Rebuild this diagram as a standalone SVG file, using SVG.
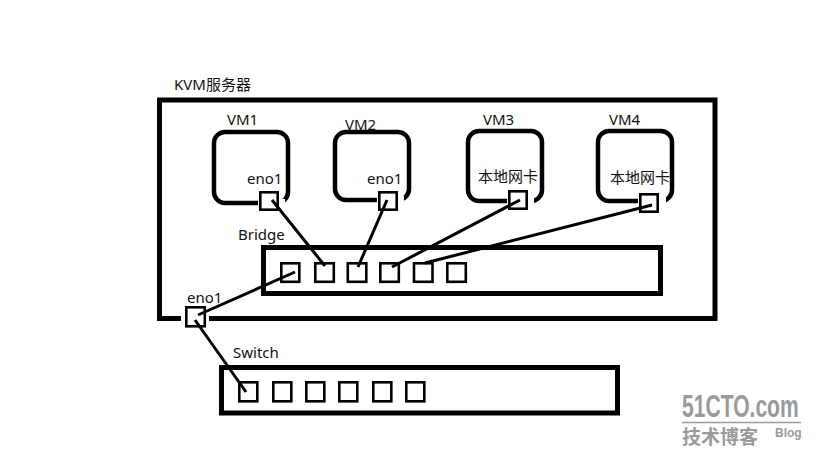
<svg xmlns="http://www.w3.org/2000/svg" width="819" height="460" viewBox="0 0 819 460">
<style>
.t{font-family:"Noto Sans","Noto Sans CJK SC",sans-serif;font-size:15px;fill:#111}
.c{font-family:"Noto Sans CJK SC","Noto Sans",sans-serif;font-size:15px;fill:#111}
.box{fill:none;stroke:#000;stroke-width:5}
.vm{fill:none;stroke:#000;stroke-width:4.5}
.port{fill:#fff;stroke:#000;stroke-width:2.6}
.gap{fill:#fff;stroke:none}
.ln{stroke:#000;stroke-width:3;fill:none}
.wm{font-family:"Liberation Sans","DejaVu Sans",sans-serif;font-weight:bold;fill:#9a9a9a}
</style>
<rect width="819" height="460" fill="#fff"/>
<g id="server">
<text class="t" x="174" y="90">KVM服务器</text>
<rect class="box" x="159.5" y="100" width="555.5" height="218.5"/>
</g>
<g id="vm1">
<text class="t" x="227" y="125">VM1</text>
<rect class="vm" x="214" y="132" width="74" height="71" rx="11"/>
<text class="t" x="247" y="184">eno1</text>
<rect class="gap" x="258" y="199" width="27" height="8"/>
<rect class="port" x="260.3" y="192.3" width="17.4" height="17.4"/>
</g>
<g id="vm2">
<rect class="vm" x="335" y="132" width="74" height="68" rx="11"/>
<text class="t" x="345" y="130">VM2</text>
<text class="t" x="367" y="184">eno1</text>
<rect class="gap" x="377" y="196" width="27" height="8"/>
<rect class="port" x="379.3" y="192.3" width="17.4" height="17.4"/>
</g>
<g id="vm3">
<text class="t" x="483" y="125">VM3</text>
<rect class="vm" x="468" y="131" width="74" height="70" rx="11"/>
<text class="c" x="478" y="182">本地网卡</text>
<rect class="gap" x="507" y="197" width="27" height="8"/>
<rect class="port" x="509.3" y="191.3" width="17.4" height="17.4"/>
</g>
<g id="vm4">
<text class="t" x="609" y="125">VM4</text>
<rect class="vm" x="598" y="131" width="74" height="70" rx="11"/>
<text class="c" x="610" y="183">本地网卡</text>
<rect class="gap" x="638" y="197" width="28" height="8"/>
<rect class="port" x="640.3" y="194.3" width="17.4" height="17.4"/>
</g>
<g id="bridge">
<text class="t" x="238" y="240">Bridge</text>
<rect class="box" x="263.5" y="247.5" width="397" height="46"/>
<rect class="port" x="281.3" y="263.3" width="18" height="18.5"/>
<rect class="port" x="315.3" y="263.3" width="18.5" height="18.5"/>
<rect class="port" x="347.8" y="263.3" width="18.5" height="18.5"/>
<rect class="port" x="380.3" y="263.3" width="18.5" height="18.5"/>
<rect class="port" x="414" y="263.3" width="18.5" height="18.5"/>
<rect class="port" x="447.3" y="263.3" width="18.5" height="18.5"/>
</g>
<g id="host-eno1">
<text class="t" x="187" y="303">eno1</text>
<rect class="gap" x="181" y="314" width="28" height="9"/>
<rect class="port" x="186.3" y="307.3" width="18.5" height="19"/>
</g>
<g id="switch">
<text class="t" x="233" y="358">Switch</text>
<rect class="box" x="221.5" y="367.5" width="396" height="45.5"/>
<rect class="port" x="239.3" y="382.3" width="18" height="19"/>
<rect class="port" x="273.3" y="382.3" width="18" height="19"/>
<rect class="port" x="306.3" y="382.3" width="18" height="19"/>
<rect class="port" x="339.3" y="382.3" width="18" height="19"/>
<rect class="port" x="373.3" y="382.3" width="18" height="19"/>
<rect class="port" x="406.3" y="382.3" width="18" height="19"/>
</g>
<g id="connectors">
<line class="ln" x1="272" y1="200" x2="325" y2="266"/>
<line class="ln" x1="387" y1="200" x2="358" y2="267"/>
<line class="ln" x1="520" y1="200" x2="392" y2="267"/>
<line class="ln" x1="652" y1="205" x2="425" y2="263"/>
<line class="ln" x1="295" y1="272" x2="198" y2="315"/>
<line class="ln" x1="195" y1="320" x2="246" y2="392"/>
</g>
<g id="watermark">
<text class="wm" transform="translate(682,417) scale(0.68,1)" x="0" y="0" font-size="31">51CTO.com</text>
<line x1="682" y1="422.5" x2="801" y2="422.5" stroke="#9a9a9a" stroke-width="1.5"/>
<text x="682" y="444" font-family="Noto Sans CJK SC,sans-serif" font-size="19" font-weight="bold" fill="#9a9a9a">技术博客</text>
<text class="wm" x="775" y="437" font-size="12">Blog</text>
</g>
</svg>
